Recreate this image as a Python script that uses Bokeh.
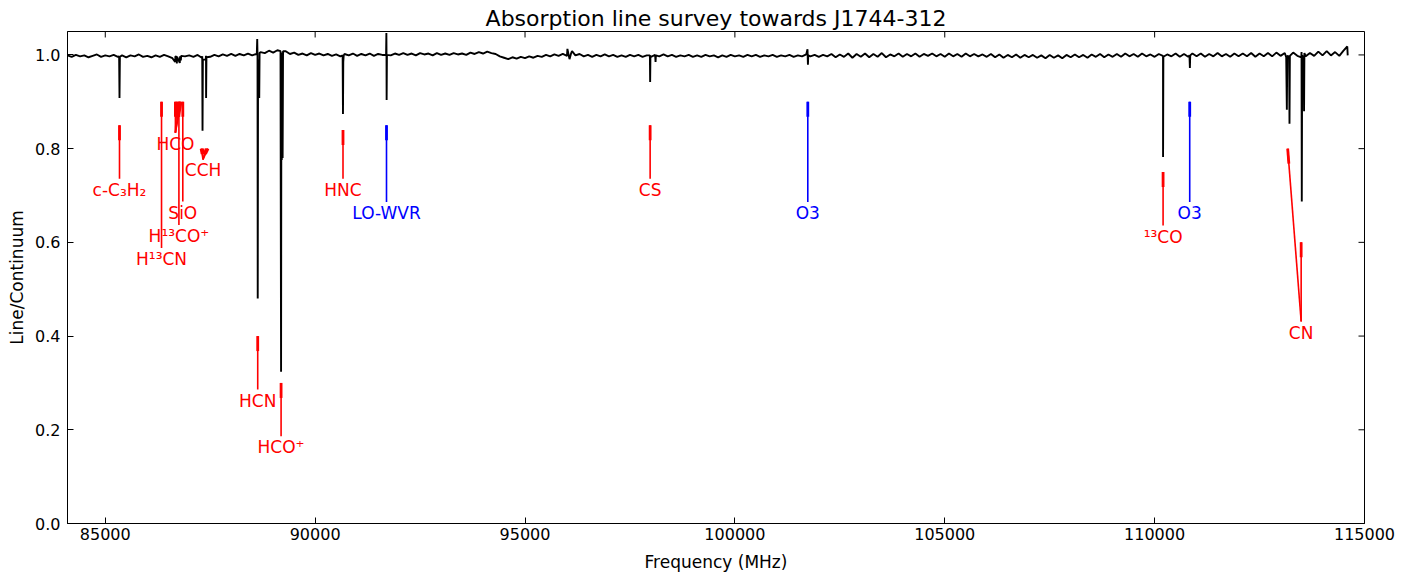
import numpy as np
from bokeh.plotting import figure
from bokeh.models import Range1d, FixedTicker, PrintfTickFormatter, ColumnDataSource
from bokeh.core.properties import value
from bokeh.embed import file_html
from bokeh.resources import INLINE

# ---------------- data ----------------
# baseline channels (Line/Continuum), every 100 MHz from 84100 MHz
base_start = 84100
base_step = 100
baseline = [
    0.999, 0.996, 1.000, 0.997, 0.999, 0.995, 0.998, 1.001, 0.996, 0.999,
    0.997, 1.000, 0.996, 0.999, 0.995, 0.999, 0.997, 1.001, 0.996, 0.998,
    0.995, 0.999, 0.996, 1.000, 0.997, 0.993, 0.996, 0.992, 0.997, 0.999,
    0.996, 1.000, 0.994, 0.998, 0.996, 1.000, 0.997, 1.001, 0.998, 1.002,
    0.998, 1.002, 0.999, 1.003, 0.999, 1.002, 1.006, 1.004, 1.009, 1.005,
    1.010, 1.004, 1.008, 1.002, 1.005, 1.000, 1.003, 0.999, 1.004, 1.000,
    1.003, 0.999, 1.002, 0.998, 1.001, 0.997, 1.002, 0.999, 1.003, 0.998,
    1.002, 0.999, 1.003, 0.998, 1.002, 1.000, 1.004, 0.999, 1.003, 1.000,
    1.004, 1.000, 1.003, 0.999, 1.004, 1.001, 1.003, 0.999, 1.004, 1.000,
    1.003, 1.000, 1.004, 1.001, 1.003, 1.000, 1.005, 1.002, 1.006, 1.003,
    1.007, 1.004, 1.002, 0.997, 0.994, 0.991, 0.995, 0.992, 0.996, 0.993,
    0.997, 0.994, 0.998, 0.996, 1.000, 0.997, 1.001, 0.998, 1.002, 0.998,
    1.004, 0.999, 1.002, 0.997, 1.000, 0.996, 1.000, 0.997, 1.001, 0.997,
    1.000, 0.996, 0.999, 0.996, 1.000, 0.997, 1.000, 0.996, 0.999, 0.996,
    1.000, 0.997, 1.001, 0.997, 1.000, 0.996, 0.999, 0.997, 1.000, 0.996,
    0.999, 0.996, 1.000, 0.997, 0.999, 0.995, 0.999, 0.996, 1.000, 0.997,
    0.999, 0.996, 1.000, 0.997, 1.000, 0.996, 0.999, 0.997, 1.000, 0.996,
    0.999, 0.997, 1.000, 0.996, 0.999, 0.997, 1.001, 0.997, 1.000, 0.996,
    1.000, 0.997, 1.002, 0.995, 1.001, 0.996, 1.003, 0.994, 1.002, 0.996,
    1.003, 0.995, 1.002, 0.996, 1.004, 0.995, 1.001, 0.997, 1.003, 0.996,
    1.002, 0.997, 1.003, 0.996, 1.002, 0.998, 1.003, 0.997, 1.002, 0.996,
    1.003, 0.997, 1.002, 0.996, 1.003, 0.997, 1.002, 0.997, 1.001, 0.996,
    1.002, 0.995, 1.001, 0.994, 1.000, 0.995, 1.001, 0.994, 1.000, 0.995,
    1.000, 0.994, 0.999, 0.993, 1.000, 0.994, 0.999, 0.993, 1.000, 0.995,
    1.001, 0.995, 1.000, 0.994, 1.001, 0.996, 1.002, 0.995, 1.001, 0.996,
    1.002, 0.996, 1.003, 0.997, 1.002, 0.996, 1.003, 0.997, 1.001, 0.996,
    1.002, 0.996, 1.001, 0.997, 1.003, 0.996, 1.002, 0.996, 1.003, 0.997,
    1.003, 0.996, 1.002, 0.997, 1.004, 0.997, 1.002, 0.996, 1.003, 0.997,
    1.003, 0.997, 1.004, 0.996, 1.003, 0.997, 1.004, 0.997, 1.005, 0.998,
    1.004, 0.997, 1.005, 0.998, 1.006, 0.997, 1.004, 0.998, 1.007, 0.999,
    1.008, 0.999, 1.006, 0.998, 1.009, 0.999,
]

# absorption features / spikes (frequency MHz, Line/Continuum)
feat_freq = [
    85330, 85339, 85348,
    86665, 86671, 86705, 86712, 86775, 86782, 86800, 86808,
    87310, 87317, 87325, 87395, 87402, 87410,
    88610, 88620, 88627, 88632, 88640, 88668, 88676,
    89175, 89188, 89196, 89205, 89215, 89225, 89235,
    90655, 90663, 90670, 90680,
    91690, 91697, 91703, 91710,
    96010, 96060, 96120,
    97975, 97981, 97988, 98110, 98118,
    101730, 101740, 101748,
    110195, 110201, 110208,
    110830, 110840, 110848,
    113135, 113150, 113160, 113205, 113213, 113222,
    113495, 113506, 113515, 113552, 113560, 113568,
    114590,
]
feat_val = [
    0.997, 0.908, 0.996,
    0.985, 0.997, 0.982, 0.996, 0.983, 0.997, 0.988, 0.998,
    0.997, 0.838, 0.990, 0.990, 0.908, 0.995,
    1.002, 1.034, 1.000, 0.480, 0.990, 0.908, 1.004,
    1.008, 0.324, 1.000, 0.776, 1.005, 0.780, 1.008,
    0.999, 0.874, 0.985, 0.999,
    1.000, 1.047, 0.904, 1.000,
    1.013, 0.991, 1.008,
    0.999, 0.942, 0.998, 0.985, 0.999,
    1.012, 0.979, 0.999,
    0.998, 0.782, 0.996,
    0.999, 0.972, 0.999,
    0.995, 0.883, 0.998, 0.995, 0.853, 0.998,
    0.995, 0.687, 0.998, 0.996, 0.880, 1.004,
    1.018,
]

# line identifications: text, text position (freq, arrow start), colour
labels = ["c-C\u2083H\u2082", "H\u00b9\u00b3CN", "H\u00b9\u00b3CO\u207a", "HCO", "SiO", "CCH",
          "HCN", "HCO\u207a", "HNC", "CS", "\u00b9\u00b3CO", "CN", "LO-WVR", "O3", "O3"]
label_freq = [85338.9, 86340.2, 86754.3, 86670.8, 86847.0, 87328.6,
              88631.8, 89188.5, 90663.6, 97981.0, 110201.4, 113491.0, 91700.0, 101737.0, 110836.0]
label_y = [0.736, 0.588, 0.637, 0.834, 0.687, 0.777,
           0.286, 0.186, 0.736, 0.736, 0.636, 0.431, 0.686, 0.686, 0.686]
label_color = ["#ff0000"] * 12 + ["#0000ff"] * 3

# arrow targets: which label, line frequency, arrow tip value
target_label = [0, 1, 2, 3, 3, 3, 3, 4, 5, 5, 5, 5, 6, 7, 8, 9, 10, 11, 11, 12, 13, 14]
target_freq = [85338.9, 86340.2, 86754.3, 86670.8, 86708.4, 86777.5, 86805.8, 86847.0,
               87284.1, 87316.9, 87402.0, 87446.5, 88631.8, 89188.5, 90663.6, 97981.0,
               110201.4, 113170.0, 113491.0, 91700.0, 101737.0, 110836.0]
target_top = [0.85, 0.90, 0.90, 0.90, 0.90, 0.90, 0.90, 0.90,
              0.80, 0.80, 0.80, 0.80, 0.40, 0.30, 0.84, 0.85,
              0.75, 0.80, 0.60, 0.85, 0.90, 0.90]

x_ticks = [85000, 90000, 95000, 100000, 105000, 110000, 115000]
y_ticks = [0.0, 0.2, 0.4, 0.6, 0.8, 1.0]
X_MIN, X_MAX = 84100, 115000
Y_MIN, Y_MAX = 0.0, 1.05

# ---------------- build ----------------
base_freq = base_start + base_step * np.arange(len(baseline))
freq = np.concatenate([base_freq, np.array(feat_freq, dtype=float)])
val = np.concatenate([np.array(baseline), np.array(feat_val)])
order = np.argsort(freq, kind="stable")
freq = freq[order]
val = val[order]

FONT = "DejaVu Sans"
W, H = 1400, 574
BL, BR, BT, BB = 67, 36, 31, 50
FW, FH = W - BL - BR, H - BT - BB

p = figure(width=W, height=H, x_range=Range1d(X_MIN, X_MAX), y_range=Range1d(Y_MIN, Y_MAX),
           output_backend="svg", toolbar_location=None,
           min_border_left=BL, min_border_right=BR, min_border_top=BT, min_border_bottom=BB)
p.background_fill_color = "white"
p.border_fill_color = "white"
p.outline_line_color = "black"
p.outline_line_width = 1
p.xgrid.visible = False
p.ygrid.visible = False

p.title.text = "Absorption line survey towards J1744-312"
p.title.align = "center"
p.title.text_font = FONT
p.title.text_font_size = "22px"
p.title.text_font_style = "normal"
p.title.text_color = "black"
try:
    p.title.standoff = 2
except Exception:
    pass
p.title.offset = 0

def style_axis(ax):
    ax.major_tick_in = 6
    ax.major_tick_out = 0
    ax.minor_tick_in = 0
    ax.minor_tick_out = 0
    ax.axis_line_color = "black"
    ax.major_tick_line_color = "black"
    ax.major_label_text_color = "black"
    ax.major_label_text_font = FONT
    ax.major_label_text_font_size = "16px"
    ax.axis_label_text_font = FONT
    ax.axis_label_text_font_size = "17px"
    ax.axis_label_text_font_style = "normal"
    ax.axis_label_text_color = "black"

xa = p.xaxis[0]
xa.ticker = FixedTicker(ticks=x_ticks)
xa.formatter = PrintfTickFormatter(format="%d")
xa.axis_label = "Frequency (MHz)"
style_axis(xa)
xa.major_label_standoff = 4
xa.axis_label_standoff = 9
xa.major_label_text_line_height = 0.9
xa.axis_label_text_line_height = 0.9

ya = p.yaxis[0]
ya.ticker = FixedTicker(ticks=y_ticks)
ya.formatter = PrintfTickFormatter(format="%.1f")
ya.axis_label = "Line/Continuum"
style_axis(ya)
ya.major_label_standoff = 7
ya.axis_label_standoff = 5

# ticks on the top and right edges (inward), length 6 px
tick_dy = 6 * (Y_MAX - Y_MIN) / FH
tick_dx = 6 * (X_MAX - X_MIN) / FW
p.segment(x0=x_ticks, y0=[Y_MAX] * len(x_ticks), x1=x_ticks, y1=[Y_MAX - tick_dy] * len(x_ticks),
          line_color="black", line_width=1)
p.segment(x0=[X_MAX] * len(y_ticks), y0=y_ticks, x1=[X_MAX - tick_dx] * len(y_ticks), y1=y_ticks,
          line_color="black", line_width=1)

# spectrum
p.line(freq, val, line_color="black", line_width=1.9)

# arrows from label to line
x0 = [label_freq[i] for i in target_label]
y0 = [label_y[i] for i in target_label]
cols = [label_color[i] for i in target_label]
p.segment(x0=x0, y0=y0, x1=target_freq, y1=target_top, line_color=cols, line_width=1.6)
# slightly thicker arrow head part near the tip
hx, hy = [], []
for xs, ys, xt, yt in zip(x0, y0, target_freq, target_top):
    frac = min(0.5, 0.032 / abs(yt - ys))
    hx.append(xt + (xs - xt) * frac)
    hy.append(yt + (ys - yt) * frac)
p.segment(x0=hx, y0=hy, x1=target_freq, y1=target_top, line_color=cols, line_width=2.8)

# labels
text_y = [y - 0.0235 for y in label_y]
src = ColumnDataSource(dict(x=label_freq, y=text_y, t=labels, c=label_color))
p.text(x="x", y="y", text="t", text_color="c", source=src, text_align="center",
       text_baseline="middle", text_font=value(FONT), text_font_size="17px")

open("out.html", "w").write(file_html(p, INLINE))
